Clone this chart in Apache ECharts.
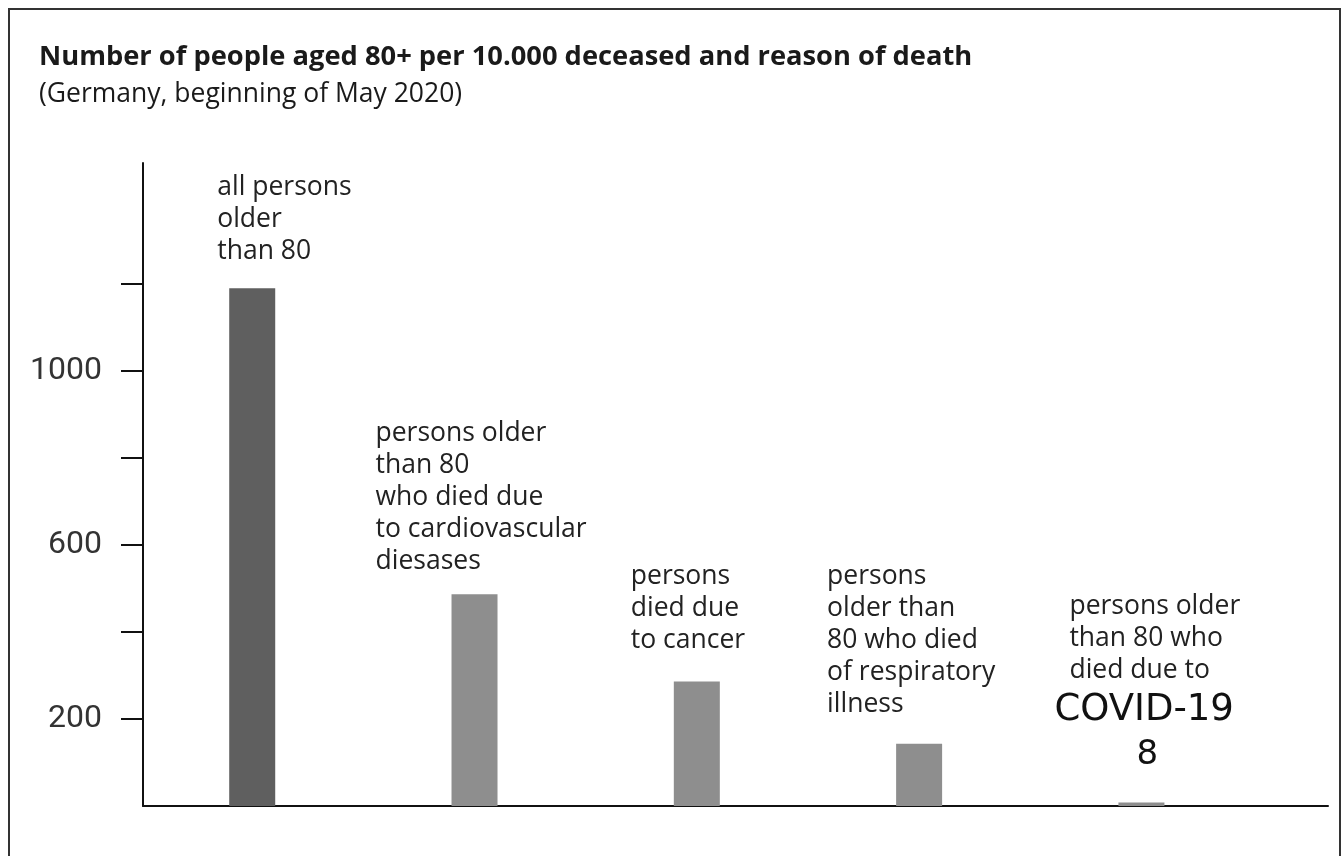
<!DOCTYPE html>
<html>
<head>
<meta charset="utf-8">
<script src="https://cdn.jsdelivr.net/npm/echarts@6/dist/echarts.min.js"></script>
<style>
  html, body { margin: 0; padding: 0; background: #fff; }
  #chart { width: 1341px; height: 856px; }
</style>
</head>
<body>
<div id="chart"></div>
<script>
// ---- data ----
const titleText = 'Number of people aged 80+ per 10.000 deceased and reason of death';
const subtitleText = '(Germany, beginning of May 2020)';
const categories = [
  'all persons\nolder\nthan 80',
  'persons older\nthan 80\nwho died due\nto cardiovascular\ndiesases',
  'persons\ndied due\nto cancer',
  'persons\nolder than\n80 who died\nof respiratory\nillness',
  'persons older\nthan 80 who\ndied due to\nCOVID-19'
];
const values = [1190, 487, 286, 143, 8];
const yTickValues = [200, 400, 600, 800, 1000, 1200];
const yLabelValues = [200, 600, 1000];

// ---- layout / style (not data) ----
const labelShift = [[-35, -21], [-99, -17], [-66, -25], [-92, -23], [-87, -26]];
const darkBar = '#5f5f5f';
const lightBar = '#8e8e8e';
const textFont = "'Open Sans', 'Noto Sans', sans-serif";

const chart = echarts.init(document.getElementById('chart'));

const seriesData = values.map((v, i) => {
  const lines = categories[i].split('\n');
  const isCovid = lines[lines.length - 1] === 'COVID-19';
  const item = {
    value: [i, v],
    itemStyle: { color: i === 0 ? darkBar : lightBar },
    label: {
      show: true,
      position: 'top',
      distance: 0,
      align: 'left',
      verticalAlign: 'bottom',
      offset: labelShift[i],
      fontFamily: textFont,
      fontSize: 26.5,
      lineHeight: 32,
      color: '#222',
      formatter: categories[i]
    }
  };
  if (isCovid) {
    const head = lines.slice(0, -1).map(t => '{a|' + t + '}').join('\n');
    item.label.formatter = head + '\n{b|' + lines[lines.length - 1] + '}\n{c|' + v + '}';
    item.label.rich = {
      a: { fontFamily: textFont, fontSize: 26.5, lineHeight: 32, color: '#222', padding: [0, 0, 0, 15] },
      b: { fontFamily: "'DejaVu Sans', sans-serif", fontSize: 37, lineHeight: 48, color: '#111', align: 'left' },
      c: { fontFamily: "'DejaVu Sans', sans-serif", fontSize: 34, lineHeight: 42, color: '#111', align: 'center' }
    };
  }
  return item;
});

const option = {
  animation: false,
  backgroundColor: '#fff',
  title: [
    {
      text: titleText,
      left: 34, top: 39,
      textStyle: { fontFamily: textFont, fontWeight: 'bold', fontSize: 27.3, color: '#1a1a1a' }
    },
    {
      text: subtitleText,
      left: 34, top: 76,
      textStyle: { fontFamily: textFont, fontWeight: 'normal', fontSize: 26.5, color: '#1a1a1a' }
    }
  ],
  graphic: [
    {
      type: 'rect',
      shape: { x: 9, y: 9, width: 1331, height: 900 },
      style: { fill: 'none', stroke: '#333', lineWidth: 2 },
      silent: true
    }
  ],
  grid: { left: 143, right: 13, top: 163, bottom: 50, containLabel: false },
  xAxis: {
    type: 'value',
    min: -0.4913,
    max: 4.8393,
    axisLine: { show: true, onZero: false, lineStyle: { color: '#111', width: 2 } },
    axisTick: { show: false },
    axisLabel: { show: false },
    splitLine: { show: false }
  },
  yAxis: {
    type: 'value',
    min: 0,
    max: 1478,
    axisLine: { show: true, onZero: false, lineStyle: { color: '#111', width: 2 } },
    axisTick: {
      show: true, length: 22, inside: false,
      customValues: yTickValues,
      lineStyle: { color: '#111', width: 2 }
    },
    axisLabel: {
      show: true,
      customValues: yLabelValues,
      formatter: v => String(v),
      margin: 41,
      fontFamily: 'Roboto, sans-serif',
      fontSize: 32,
      color: '#333'
    },
    splitLine: { show: false }
  },
  series: [
    {
      type: 'bar',
      barWidth: 46,
      data: seriesData
    }
  ]
};

chart.setOption(option);
</script>
</body>
</html>
